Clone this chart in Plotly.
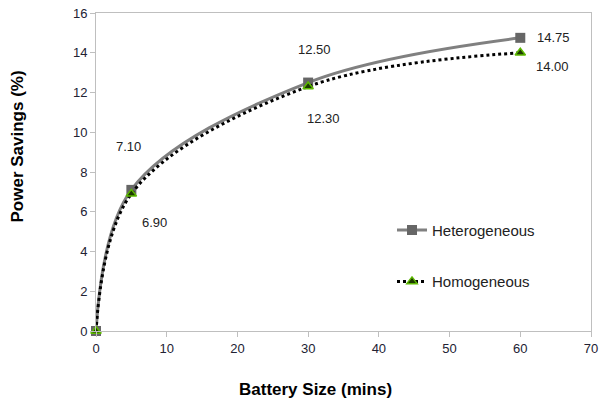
import plotly.graph_objects as go

battery = [0, 5, 30, 60]
hetero = [0, 7.10, 12.50, 14.75]
homo = [0, 6.90, 12.30, 14.00]
x_ticks = [0, 10, 20, 30, 40, 50, 60, 70]
y_ticks = [0, 2, 4, 6, 8, 10, 12, 14, 16]

font_family = "Liberation Sans, Arial, sans-serif"

fig = go.Figure()
fig.add_trace(go.Scatter(
    x=battery, y=hetero, name="Heterogeneous", mode="lines+markers",
    line=dict(color="#808080", width=3, shape="spline", smoothing=1.0),
    marker=dict(symbol="square", size=10, color="#666666"),
    legendgroup="a",
))
fig.add_trace(go.Scatter(
    x=battery, y=homo, name="Homogeneous", mode="lines+markers",
    line=dict(color="#000000", width=3, dash="dot", shape="spline", smoothing=1.0),
    marker=dict(symbol="triangle-up", size=9, color="#1e3a00",
                line=dict(color="#5cb800", width=1.5)),
    legendgroup="b",
))

# data labels: (x, y, text, dx px, dy px downwards)
labels = [
    (5, 7.10, "7.10", -3, -43),
    (5, 6.90, "6.90", 23, 29),
    (30, 12.50, "12.50", 6, -33),
    (30, 12.30, "12.30", 15, 32),
    (60, 14.75, "14.75", 33, 0),
    (60, 14.00, "14.00", 32, 14),
]
for x, y, t, ax, ay in labels:
    fig.add_annotation(x=x, y=y, text=t, showarrow=False, xshift=ax, yshift=-ay,
                       font=dict(family=font_family, size=13, color="#222222"))

# axis titles
fig.add_annotation(xref="paper", yref="paper", x=0.4434, y=-0.1855,
                   text="<b>Battery Size (mins)</b>", showarrow=False,
                   xanchor="center", yanchor="middle",
                   font=dict(family=font_family, size=17, color="#000000"))
fig.add_annotation(xref="paper", yref="paper", x=-0.1576, y=0.5802,
                   text="<b>Power Savings (%)</b>", showarrow=False, textangle=-90,
                   xanchor="center", yanchor="middle",
                   font=dict(family=font_family, size=17, color="#000000"))

fig.update_layout(
    width=600, height=401,
    margin=dict(l=96, r=9, t=13, b=70),
    paper_bgcolor="white", plot_bgcolor="white",
    font=dict(family=font_family, size=13, color="#222233"),
    showlegend=True,
    legend=dict(x=0.598, y=0.369, xanchor="left", yanchor="top",
                bgcolor="rgba(0,0,0,0)", font=dict(size=15, color="#222222"),
                tracegroupgap=29),
    xaxis=dict(range=[0, 70], tickvals=x_ticks, showgrid=False, zeroline=False,
               showline=True, linecolor="#bfbfbf", linewidth=1, mirror=True,
               ticks="outside", ticklen=5, tickcolor="#bfbfbf",
               automargin=False, ticklabeloverflow="allow"),
    yaxis=dict(range=[0, 16], tickvals=y_ticks, showgrid=False, zeroline=False,
               showline=True, linecolor="#bfbfbf", linewidth=1, mirror=True,
               ticks="outside", ticklen=5, tickcolor="#bfbfbf",
               automargin=False, ticklabeloverflow="allow"),
)
fig.update_traces(cliponaxis=False)

fig.write_html("out.html", config={"displayModeBar": False},
               post_script="document.body.style.margin='0';document.body.style.overflow='hidden';")
